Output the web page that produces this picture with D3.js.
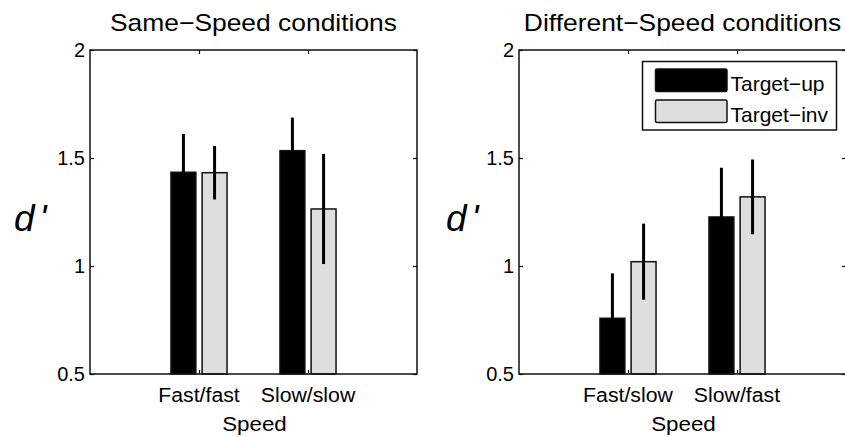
<!DOCTYPE html>
<html>
<head>
<meta charset="utf-8">
<script src="https://cdn.jsdelivr.net/npm/d3@7/dist/d3.min.js"></script>
<style>
  html, body { margin: 0; padding: 0; background: #fff; }
  svg { display: block; }
  text { font-family: "Liberation Sans", Arial, Helvetica, sans-serif; fill: #000; }
</style>
</head>
<body>
<svg id="chart" width="845" height="437"></svg>
<script>
// ---- Data ----
const titles = ["Same\u2212Speed conditions", "Different\u2212Speed conditions"];
const categoriesSame = ["Fast/fast", "Slow/slow"];
const categoriesDiff = ["Fast/slow", "Slow/fast"];
const seriesNames = ["Target\u2212up", "Target\u2212inv"];
const yTicks = [0.5, 1, 1.5, 2];
const yTickLabels = ["0.5", "1", "1.5", "2"];
const xLabel = "Speed";
const yLabelMain = "d";
const yLabelPrime = "'";

const sameUp = [1.434, 1.534];
const sameUpErr = [0.177, 0.153];
const sameInv = [1.432, 1.264];
const sameInvErr = [0.124, 0.255];

const diffUp = [0.758, 1.227];
const diffUpErr = [0.208, 0.228];
const diffInv = [1.020, 1.320];
const diffInvErr = [0.176, 0.173];

const seriesFill = ["#000000", "#dedede"];

// ---- Layout ----
const svg = d3.select("#chart");
svg.append("rect").attr("width", 845).attr("height", 437).attr("fill", "#fff");

const stretch = 1.09;
function stretchText(sel, f) {
  sel.each(function () {
    const n = this.getComputedTextLength();
    d3.select(this).attr("textLength", n * (f || stretch)).attr("lengthAdjust", "spacingAndGlyphs");
  });
}

const panels = [
  { left: 90, right: 417, title: titles[0], cats: categoriesSame,
    vals: [sameUp, sameInv], errs: [sameUpErr, sameInvErr], ylabX: 14, legend: false },
  { left: 519, right: 846, title: titles[1], cats: categoriesDiff,
    vals: [diffUp, diffInv], errs: [diffUpErr, diffInvErr], ylabX: 446, legend: true }
];
const plotTop = 50, plotBottom = 374;

panels.forEach(p => {
  const x = d3.scaleLinear().domain([0, 3]).range([p.left, p.right]);
  const y = d3.scaleLinear().domain([0.5, 2]).range([plotBottom, plotTop]);
  const g = svg.append("g");

  // bars
  const groupW = Math.min(0.8, 2 / (2 + 1.5));
  const slot = groupW / 2;
  const barW = slot * 0.8;
  const offsets = [-slot / 2, slot / 2];

  p.vals.forEach((vals, s) => {
    g.selectAll(null).data(vals).enter().append("rect")
      .attr("x", (d, i) => x(i + 1 + offsets[s] - barW / 2))
      .attr("width", x(barW) - x(0))
      .attr("y", d => y(d))
      .attr("height", d => y(0.5) - y(d))
      .attr("fill", seriesFill[s])
      .attr("stroke", "#111")
      .attr("stroke-width", 1.5);
  });
  // error bars
  p.vals.forEach((vals, s) => {
    g.selectAll(null).data(vals).enter().append("line")
      .attr("x1", (d, i) => x(i + 1 + offsets[s]))
      .attr("x2", (d, i) => x(i + 1 + offsets[s]))
      .attr("y1", (d, i) => y(d - p.errs[s][i]))
      .attr("y2", (d, i) => y(d + p.errs[s][i]))
      .attr("stroke", "#000")
      .attr("stroke-width", 3);
  });

  // axes box
  g.append("rect").attr("x", p.left).attr("y", plotTop)
    .attr("width", p.right - p.left).attr("height", plotBottom - plotTop)
    .attr("fill", "none").attr("stroke", "#111").attr("stroke-width", 1.5);

  // inner ticks
  const tl = 4;
  const axL = d3.axisRight(y).tickValues(yTicks).tickSize(tl).tickFormat("");
  const axR = d3.axisLeft(y).tickValues(yTicks).tickSize(tl).tickFormat("");
  const axB = d3.axisTop(x).tickValues([1, 2]).tickSize(tl).tickFormat("");
  const axT = d3.axisBottom(x).tickValues([1, 2]).tickSize(tl).tickFormat("");
  [[axL, `translate(${p.left},0)`], [axR, `translate(${p.right},0)`],
   [axB, `translate(0,${plotBottom})`], [axT, `translate(0,${plotTop})`]].forEach(([ax, tr]) => {
    const a = g.append("g").attr("transform", tr).call(ax);
    a.select(".domain").remove();
    a.selectAll("line").attr("stroke", "#111").attr("stroke-width", 1.2);
  });

  // y tick labels
  g.selectAll(null).data(yTicks).enter().append("text")
    .attr("x", p.left - 5)
    .attr("y", d => y(d))
    .attr("dy", "0.36em")
    .attr("text-anchor", "end")
    .attr("font-size", 20)
    .text((d, i) => yTickLabels[i]);

  // x tick labels
  g.selectAll(null).data(p.cats).enter().append("text")
    .attr("x", (d, i) => x(i + 1))
    .attr("y", 402)
    .attr("text-anchor", "middle")
    .attr("font-size", 19.5)
    .text(d => d)
    .call(stretchText);

  // x label
  g.append("text")
    .attr("x", (p.left + p.right) / 2 + 1)
    .attr("y", 431)
    .attr("text-anchor", "middle")
    .attr("font-size", 20.5)
    .text(xLabel)
    .call(stretchText);

  // y label
  const yl = g.append("text")
    .attr("x", p.ylabX)
    .attr("y", 231)
    .attr("font-size", 37)
    .attr("font-style", "italic");
  yl.append("tspan").text(yLabelMain);
  yl.append("tspan").attr("dx", 5).text(yLabelPrime);

  // title
  g.append("text")
    .attr("x", (p.left + p.right) / 2)
    .attr("y", 31)
    .attr("text-anchor", "middle")
    .attr("font-size", 24)
    .text(p.title)
    .call(stretchText, 1.1);

  // legend
  if (p.legend) {
    const lg = g.append("g");
    lg.append("rect").attr("x", 642.5).attr("y", 61.5).attr("width", 194).attr("height", 68.5)
      .attr("fill", "#fff").attr("stroke", "#111").attr("stroke-width", 1.5);
    seriesNames.forEach((name, s) => {
      const yy = 69 + s * 31;
      lg.append("rect").attr("x", 655.5).attr("y", yy).attr("width", 71.5).attr("height", 22.5)
        .attr("rx", 1.5)
        .attr("fill", seriesFill[s]).attr("stroke", "#111").attr("stroke-width", 1.5);
      lg.append("text").attr("x", 730.5).attr("y", yy + 22)
        .attr("font-size", 21).text(name).call(stretchText, 1.0);
    });
  }
});
</script>
</body>
</html>
